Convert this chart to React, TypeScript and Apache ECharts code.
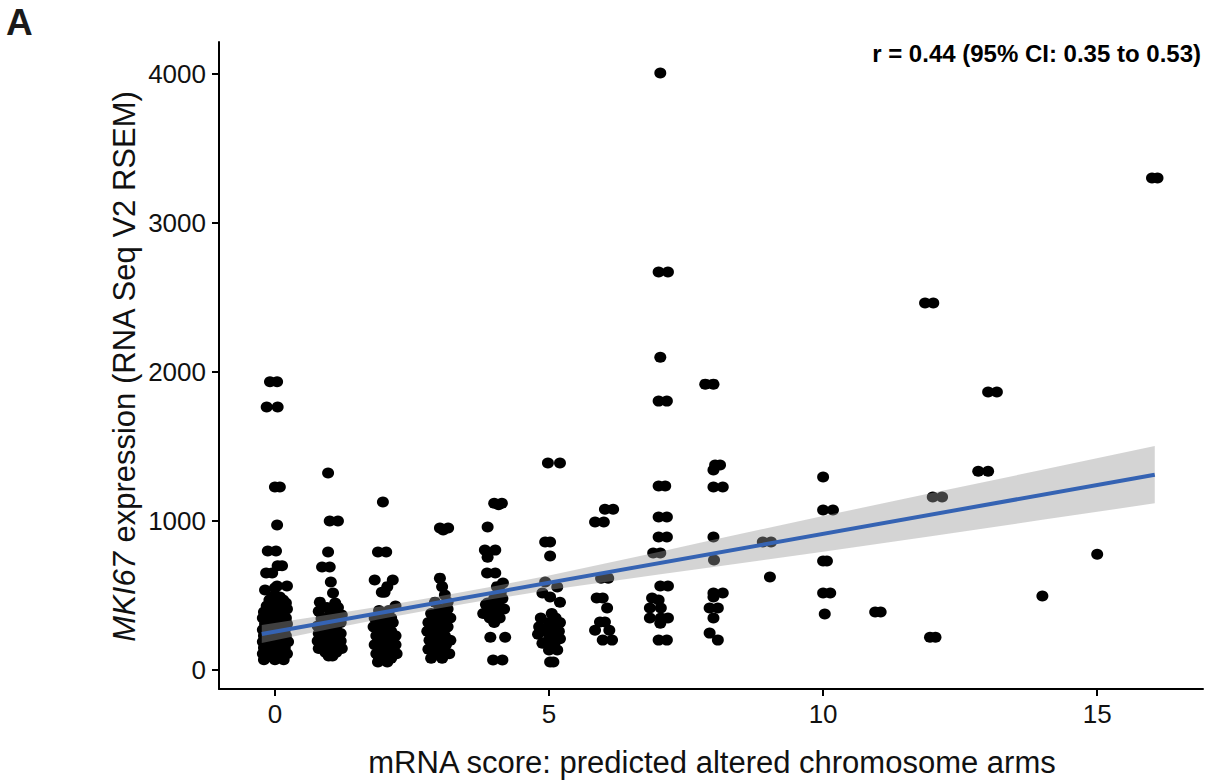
import React, { useEffect, useRef } from "react";
import * as echarts from "echarts";

// Integer mRNA scores (x categories before jitter)
const scores = [0, 1, 2, 3, 4, 5, 6, 7, 8, 9, 10, 11, 12, 13, 14, 15, 16];

// Each entry: [horizontal jitter offset, MKI67 expression]
const col0: [number, number][] = [
  [-0.09, 1935], [0.04, 1935], [-0.15, 1765], [0.05, 1765], [0.0, 1228], [0.09, 1228],
  [0.04, 973], [-0.13, 799], [0.02, 799], [0.05, 700], [0.13, 700], [-0.16, 651], [-0.05, 651],
  [-0.18, 537], [0.04, 564], [0.22, 564], [0.0, 550],
  [-0.05, 490], [0.09, 490], [-0.1, 470], [0.15, 470], [0.0, 450], [0.2, 450],
  [-0.15, 430], [0.08, 430], [-0.05, 410], [0.22, 410], [-0.2, 390], [0.1, 390], [0.0, 390],
  [0.15, 370], [-0.1, 370], [-0.22, 350], [0.05, 350], [0.2, 350], [-0.05, 330], [0.12, 330],
  [-0.18, 310], [0.0, 310], [0.22, 310], [-0.1, 290], [0.1, 290], [-0.22, 270], [0.02, 270], [0.18, 270],
  [-0.12, 250], [0.08, 250], [-0.2, 230], [0.0, 230], [0.2, 230], [-0.08, 210], [0.12, 210],
  [-0.22, 190], [0.05, 190], [0.24, 190], [-0.12, 170], [0.1, 170], [-0.2, 150], [0.0, 150], [0.18, 150],
  [-0.1, 130], [0.12, 130], [-0.22, 110], [0.02, 110], [0.22, 110], [-0.12, 90], [0.1, 90],
  [-0.2, 70], [0.0, 70], [0.16, 70],
];
const col1: [number, number][] = [
  [-0.03, 1322], [0.0, 1000], [0.15, 1000], [-0.03, 792], [-0.14, 691], [0.0, 691], [0.02, 591],
  [0.06, 517], [-0.18, 456], [0.1, 450],
  [-0.05, 420], [0.15, 420], [-0.2, 395], [0.08, 395], [0.0, 370], [0.22, 370], [-0.15, 345], [0.1, 345],
  [-0.05, 320], [0.2, 320], [-0.22, 295], [0.05, 295], [0.12, 270], [-0.1, 270],
  [-0.2, 245], [0.0, 245], [0.2, 245], [-0.08, 220], [0.12, 220], [-0.22, 195], [0.05, 195], [0.2, 195],
  [-0.1, 170], [0.1, 170], [-0.2, 145], [0.0, 145], [0.22, 145], [-0.08, 120], [0.12, 120],
  [-0.02, 95], [0.05, 95],
];
const col2: [number, number][] = [
  [-0.03, 1128], [-0.12, 792], [0.03, 792], [-0.18, 604], [0.15, 604], [0.05, 560], [0.0, 523], [-0.05, 523],
  [0.2, 430],
  [-0.1, 400], [0.08, 400], [0.0, 375], [-0.18, 350], [0.12, 350], [-0.05, 320], [0.15, 320],
  [-0.2, 290], [0.05, 290], [0.12, 260], [-0.08, 260], [-0.15, 230], [0.05, 230], [0.2, 230],
  [-0.05, 200], [0.12, 200], [-0.18, 170], [0.05, 170], [0.2, 170], [-0.08, 140], [0.1, 140],
  [-0.15, 110], [0.05, 110], [0.22, 110], [-0.1, 80], [0.12, 80], [-0.12, 55], [0.05, 55],
];
const col3: [number, number][] = [
  [0.01, 953], [0.16, 953], [0.07, 940], [0.01, 617], [0.05, 560], [0.1, 503], [-0.08, 456], [0.15, 456],
  [0.0, 410], [0.15, 410], [-0.15, 380], [0.05, 380], [-0.05, 350], [0.2, 350], [-0.2, 320], [0.08, 320],
  [-0.05, 290], [0.15, 290], [-0.22, 260], [0.02, 260], [0.1, 230], [-0.1, 230],
  [-0.18, 200], [0.05, 200], [0.2, 200], [-0.05, 170], [0.12, 170], [-0.2, 140], [0.05, 140],
  [0.18, 110], [-0.05, 110], [-0.15, 80], [0.05, 80],
];
const col4: [number, number][] = [
  [0.0, 1120], [0.14, 1120], [0.08, 1110], [-0.12, 960], [-0.17, 805], [0.02, 805], [-0.12, 758],
  [-0.13, 651], [0.02, 651], [0.16, 584], [0.05, 560], [0.12, 520], [-0.12, 450],
  [0.0, 480], [0.15, 480], [-0.15, 440], [0.08, 440], [-0.05, 410], [0.18, 410], [-0.2, 380], [0.05, 380],
  [0.1, 350], [-0.08, 350], [0.0, 320], [-0.07, 221], [0.2, 221], [-0.02, 67], [0.15, 67],
];
const col5: [number, number][] = [
  [-0.02, 1389], [0.2, 1389], [-0.07, 859], [0.02, 859], [0.02, 765], [-0.07, 591], [0.15, 557],
  [-0.12, 517], [0.02, 490], [0.2, 455],
  [0.05, 380], [-0.15, 350], [0.12, 350], [0.0, 320], [0.2, 320], [-0.18, 290], [0.08, 290],
  [-0.05, 260], [0.18, 260], [-0.2, 240], [0.1, 240], [0.0, 210], [0.2, 210], [-0.12, 180], [0.1, 180],
  [0.02, 150], [0.0, 134], [0.15, 134], [0.02, 54], [0.08, 54],
];
const col6: [number, number][] = [
  [0.02, 1080], [0.17, 1080], [-0.16, 993], [0.0, 993], [0.08, 617], [-0.05, 617], [-0.13, 483], [-0.02, 483],
  [0.06, 416], [-0.07, 322], [0.02, 322], [-0.16, 268], [0.1, 268], [-0.02, 201], [0.15, 201],
];
const col7: [number, number][] = [
  [0.03, 4007], [0.0, 2671], [0.17, 2671], [0.03, 2100], [0.0, 1805], [0.15, 1805], [0.0, 1235], [0.12, 1235],
  [0.0, 1027], [0.15, 1027], [0.0, 893], [0.15, 893], [-0.1, 785], [0.03, 785], [0.03, 564], [0.17, 564],
  [-0.12, 483], [0.0, 470], [-0.16, 416], [0.04, 416], [-0.16, 349], [0.04, 349], [0.17, 349], [0.03, 315],
  [0.0, 201], [0.15, 201],
];
const col8: [number, number][] = [
  [-0.15, 1919], [0.0, 1919], [0.03, 1376], [0.12, 1376], [0.0, 1342], [0.0, 1228], [0.17, 1228],
  [0.0, 893], [0.01, 738], [0.0, 517], [0.17, 517], [0.0, 490], [0.08, 416], [-0.07, 416], [0.0, 349],
  [-0.07, 248], [0.08, 201],
];
const col9: [number, number][] = [[-0.1, 859], [0.05, 859], [0.03, 624]];
const col10: [number, number][] = [[0.0, 1295], [0.0, 1074], [0.18, 1074], [0.0, 732], [0.07, 732], [0.0, 517], [0.13, 517], [0.03, 376]];
const col11: [number, number][] = [[-0.05, 389], [0.05, 389]];
const col12: [number, number][] = [[-0.14, 2463], [0.01, 2463], [0.0, 1161], [0.17, 1161], [-0.05, 221], [0.05, 221]];
const col13: [number, number][] = [[0.01, 1866], [0.17, 1866], [-0.17, 1335], [0.01, 1335]];
const col14: [number, number][] = [[0.0, 497]];
const col15: [number, number][] = [[0.0, 778]];
const col16: [number, number][] = [[0.0, 3302], [0.1, 3302]];

const pointsByScore = [col0, col1, col2, col3, col4, col5, col6, col7, col8, col9, col10, col11, col12, col13, col14, col15, col16];

// Linear fit and its 95% confidence band
const fitX = [-0.24, 16.05];
const fitY = [242, 1311];
const bandX = [-0.24, 1, 2, 3, 4, 5, 6, 7, 8, 10, 12, 14, 16.05];
const bandLow = [182, 275, 347, 415, 478, 537, 590, 641, 691, 794, 900, 1008, 1119];
const bandHigh = [302, 373, 431, 495, 562, 635, 714, 793, 875, 1034, 1190, 1344, 1503];

const xTicks = [0, 5, 10, 15];
const yTicks = [0, 1000, 2000, 3000, 4000];

const FONT = "'Liberation Sans', Arial, Helvetica, sans-serif";

export default function App() {
  const ref = useRef<HTMLDivElement>(null);
  useEffect(() => {
    if (!ref.current) return;
    const chart = echarts.init(ref.current, null, { renderer: "svg" });
    const scatterData = pointsByScore.flatMap((col, i) => col.map(([dx, y]) => [scores[i] + dx, y]));
    const bandData = bandX.map((x, i) => [x, bandLow[i], bandHigh[i]]);
    chart.setOption({
      animation: false,
      backgroundColor: "#ffffff",
      grid: { left: 219, top: 42, right: 4, bottom: 93, containLabel: false },
      xAxis: {
        type: "value",
        min: -1.02,
        max: 16.93,
        splitLine: { show: false },
        axisLine: { show: true, onZero: false, lineStyle: { color: "#000", width: 2 } },
        axisTick: { show: true, customValues: xTicks, length: 7, lineStyle: { color: "#000", width: 2 } },
        axisLabel: { customValues: xTicks, color: "#111", fontSize: 26, fontFamily: FONT, margin: 12, formatter: (v: number) => String(v) },
      },
      yAxis: {
        type: "value",
        min: -127,
        max: 4215,
        splitLine: { show: false },
        axisLine: { show: true, onZero: false, lineStyle: { color: "#000", width: 2 } },
        axisTick: { show: true, customValues: yTicks, length: 7, lineStyle: { color: "#000", width: 2 } },
        axisLabel: { customValues: yTicks, color: "#111", fontSize: 26, fontFamily: FONT, margin: 13, formatter: (v: number) => String(v) },
      },
      series: [
        {
          type: "scatter",
          data: scatterData,
          symbol: "circle",
          symbolSize: [12, 11],
          itemStyle: { color: "#000", opacity: 1 },
          z: 2,
        },
        {
          type: "custom",
          data: bandData,
          z: 3,
          renderItem: (params: any, api: any) => {
            if (params.dataIndex !== 0) return null;
            const upper = bandData.map((d) => api.coord([d[0], d[2]]));
            const lower = bandData.map((d) => api.coord([d[0], d[1]])).reverse();
            return {
              type: "polygon",
              shape: { points: upper.concat(lower) },
              style: { fill: "rgba(153,153,153,0.42)", stroke: "none" },
            };
          },
        },
        {
          type: "line",
          data: fitX.map((x, i) => [x, fitY[i]]),
          symbol: "none",
          lineStyle: { color: "#3563B3", width: 4 },
          z: 4,
        },
      ],
      graphic: [
        {
          type: "text",
          left: 6,
          top: 4,
          style: { text: "A", font: `bold 37px ${FONT}`, fill: "#1a1a1a" },
        },
        {
          type: "text",
          right: 6,
          top: 41,
          style: { text: "r = 0.44 (95% CI: 0.35 to 0.53)", font: `bold 24px ${FONT}`, fill: "#000" },
        },
        {
          type: "text",
          x: 712,
          y: 762,
          style: {
            text: "mRNA score: predicted altered chromosome arms",
            font: `31px ${FONT}`,
            fill: "#111",
            align: "center",
            verticalAlign: "middle",
          },
        },
        {
          type: "text",
          x: 124,
          y: 366,
          rotation: Math.PI / 2,
          style: {
            text: "{i|MKI67} expression (RNA Seq V2 RSEM)",
            font: `31px ${FONT}`,
            fill: "#111",
            align: "center",
            verticalAlign: "middle",
            rich: {
              i: { fontStyle: "italic", fontSize: 31, fontFamily: FONT, fill: "#111" },
            },
          },
        },
      ],
    });
    return () => chart.dispose();
  }, []);
  return <div ref={ref} style={{ position: "fixed", left: 0, top: 0, width: 1207, height: 782 }} />;
}
